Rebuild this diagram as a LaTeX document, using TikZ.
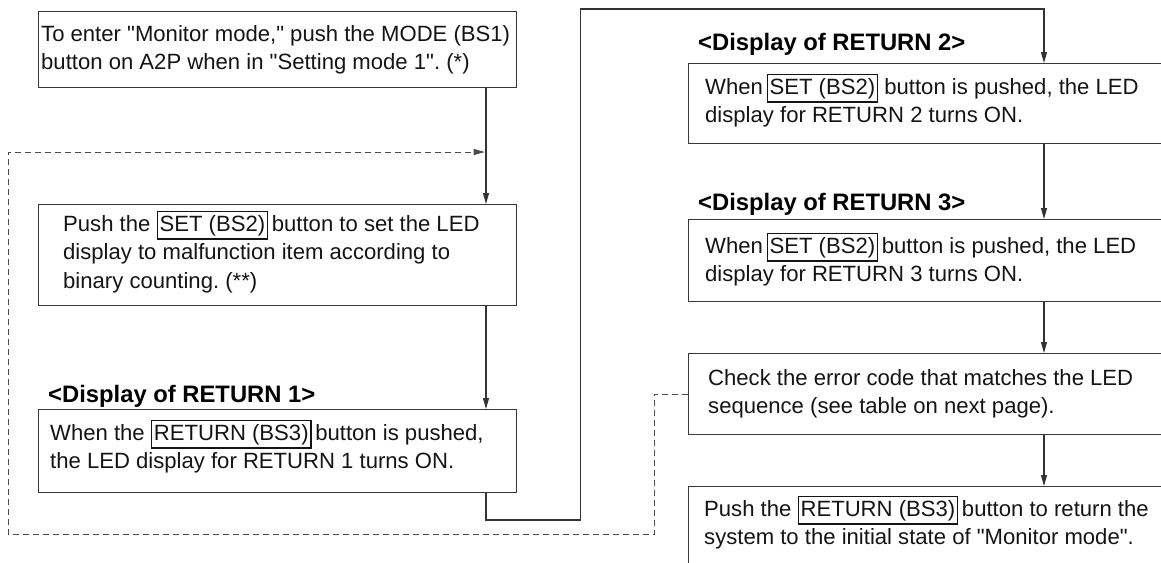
\documentclass[tikz,border=0pt]{standalone}
\usepackage{fontspec}
\setmainfont{Liberation Sans}
\usetikzlibrary{arrows.meta}
\frenchspacing
\newcommand\btn[1]{{\setlength{\fboxsep}{0pt}\setlength{\fboxrule}{1.5pt}\fbox{\kern1.5pt\rule[-7pt]{0pt}{26pt}#1\kern1.5pt}}}
\newcommand\fst{\rule{0pt}{21.5pt}}
\newcommand\qq{\textquotedbl}
\begin{document}
\begin{tikzpicture}[x=1pt,y=-1pt,
  box/.style={draw=black!78, line width=1.3pt, anchor=north west, inner sep=0pt},
  txt/.style={inner sep=0pt, anchor=north west, align=left, text=black!92, font={\fontsize{22.1pt}{28.5pt}\selectfont\lineskiplimit=-50pt\frenchspacing}},
  ttl/.style={inner sep=0pt, anchor=base west, text=black, font=\fontsize{23.8pt}{28pt}\selectfont\bfseries},
  line/.style={draw=black!80, line width=1.1pt},
  arr/.style={line, -{Triangle[length=11pt,width=6pt]}},
  dashline/.style={draw=black!70, line width=1pt, dash pattern=on 6pt off 4pt}
]
\useasboundingbox (0,0) rectangle (1161,562);
\clip (0,0) rectangle (1161,562);
% left column boxes
\node[box, minimum width=478pt, minimum height=76pt] (b1) at (38,11) {};
\node[box, minimum width=478pt, minimum height=101pt] (b2) at (38,204) {};
\node[box, minimum width=478pt, minimum height=83pt] (b3) at (38,409) {};
% right column boxes
\node[box, minimum width=500pt, minimum height=80pt] (r2) at (688,63) {};
\node[box, minimum width=500pt, minimum height=82pt] (r3) at (688,219) {};
\node[box, minimum width=500pt, minimum height=81pt] (r4) at (688,353) {};
\node[box, minimum width=500pt, minimum height=100pt] (r5) at (688,486) {};
% texts
\node[txt] (x1) at (41,19.5) {\fst To enter \qq Monitor mode,\qq{} push the MODE (BS1)\\ button on A2P when in \qq Setting mode 1\qq. (*)};
\node[txt] (x2) at (63,209.5) {\fst Push the \btn{SET (BS2)}\,button to set the LED\\ display to malfunction item according to\\ binary counting. (**)};
\node[txt] (x3) at (50,418.5) {\fst When the \btn{RETURN (BS3)}\,button is pushed,\\ the LED display for RETURN 1 turns ON.};
\node[txt] (x4) at (705,72.5) {\fst When\,\btn{SET (BS2)} button is pushed, the LED\\ display for RETURN 2 turns ON.};
\node[txt] (x5) at (705,231.5) {\fst When\,\btn{SET (BS2)}\,button is pushed, the LED\\ display for RETURN 3 turns ON.};
\node[txt] (x6) at (708,363.5) {\fst Check the error code that matches the LED\\ sequence (see table on next page).};
\node[txt] (x7) at (704,494.5) {\fst Push the \btn{RETURN (BS3)}\,button to return the\\ system to the initial state of \qq Monitor mode\qq.};
% titles
\node[ttl] (t1) at (48,402) {<Display of RETURN 1>};
\node[ttl] (t2) at (698,50) {<Display of RETURN 2>};
\node[ttl] (t3) at (698,210) {<Display of RETURN 3>};
% connectors
\coordinate (c1) at ([xshift=-31.3pt]b1.south east);
\coordinate (k1) at (580.7,520);
\coordinate (k2) at (580.7,9);
\coordinate (rx) at (1044,9);
\coordinate (j) at (484.7,152);
\coordinate (d1) at (654,534.7);
\coordinate (d2) at (8,534.7);
\draw[arr] (c1) -- (c1 |- b2.north);
\draw[arr] (c1 |- b2.south) -- (c1 |- b3.north);
\draw[arr] (c1 |- b3.south) |- (k1) -- (k2) -- (rx) -- (rx |- r2.north);
\draw[arr] (rx |- r2.south) -- (rx |- r3.north);
\draw[arr] (rx |- r3.south) -- (rx |- r4.north);
\draw[arr] (rx |- r4.south) -- (rx |- r5.north);
\draw[dashline, -{Triangle[length=11pt,width=6pt]}] (r4.west) -| (d1) -- (d2) |- (j);
\end{tikzpicture}
\end{document}
